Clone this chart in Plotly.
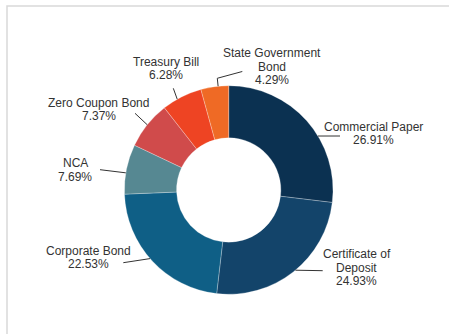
import math
import plotly.graph_objects as go

# Portfolio allocation by instrument type (percent of total)
labels = ["Commercial Paper", "Certificate of Deposit", "Corporate Bond", "NCA",
          "Zero Coupon Bond", "Treasury Bill", "State Government Bond"]
shares = [26.91, 24.93, 22.53, 7.69, 7.37, 6.28, 4.29]
label_lines = [["Commercial Paper"], ["Certificate of", "Deposit"], ["Corporate Bond"],
               ["NCA"], ["Zero Coupon Bond"], ["Treasury Bill"], ["State Government", "Bond"]]
colors = ["#0b3151", "#13446a", "#0f5f86", "#568892", "#d04b4b", "#ee4423", "#ef6a25"]

# Canvas and donut geometry (pixels)
W, H = 449, 334
CX, CY, R = 228.7, 190.0, 104.3
LINE_H = 13.3

# Label placement: text block centre x, first-line y, connector end point,
# small angular shift of the connector start and optional radial stub length
label_pos = [
    dict(tx=373.8, ty=127.0, ex=340.0, ey=136.0, nudge=10.4, stub=0),
    dict(tx=356.7, ty=254.3, ex=322.7, ey=270.7, nudge=-1.5, stub=0),
    dict(tx=88.0, ty=250.7, ex=123.3, ey=262.7, nudge=1.7, stub=0),
    dict(tx=75.3, ty=163.3, ex=100.0, ey=169.7, nudge=-2.1, stub=0),
    dict(tx=98.7, ty=103.0, ex=135.0, ey=113.3, nudge=0.0, stub=0),
    dict(tx=166.3, ty=62.0, ex=173.3, ey=88.3, nudge=-2.8, stub=0),
    dict(tx=271.7, ty=53.3, ex=242.3, ey=71.5, nudge=1.9, stub=8),
]


def px(x):
    return x / W


def py(y):
    return 1 - y / H


fig = go.Figure(go.Pie(
    labels=labels,
    values=shares,
    hole=0.5,
    sort=False,
    direction="clockwise",
    rotation=0,
    textinfo="none",
    marker=dict(colors=colors, line=dict(color="rgba(255,255,255,0.45)", width=0.6)),
    domain=dict(x=[px(CX - R), px(CX + R)], y=[py(CY + R), py(CY - R)]),
    showlegend=False,
))

annotations = []
shapes = []
total = sum(shares)
cum = 0.0
for name_lines, value, pos in zip(label_lines, shares, label_pos):
    mid = (cum + value / 2) / total * 360.0
    cum += value
    ang = math.radians(mid + pos["nudge"])
    sx = CX + R * math.sin(ang)
    sy = CY - R * math.cos(ang)
    pts = [(sx, sy)]
    if pos["stub"]:
        pts.append((CX + (R + pos["stub"]) * math.sin(ang), CY - (R + pos["stub"]) * math.cos(ang)))
    pts.append((pos["ex"], pos["ey"]))
    path = "M " + " L ".join(f"{px(x):.5f},{py(y):.5f}" for x, y in pts)
    shapes.append(dict(type="path", xref="paper", yref="paper", path=path,
                       line=dict(color="#333333", width=1)))

    lines = name_lines + [f"{value:.2f}%"]
    for i, t in enumerate(lines):
        annotations.append(dict(
            text=t, x=px(pos["tx"]), y=py(pos["ty"] + i * LINE_H),
            xref="paper", yref="paper", xanchor="center", yanchor="middle",
            showarrow=False, font=dict(family="Liberation Sans, Arial, sans-serif",
                                       size=12, color="#333333"),
        ))

# Light frame around the chart card
shapes.append(dict(type="rect", xref="paper", yref="paper",
                   x0=px(7), x1=1.05, y0=-0.05, y1=py(6),
                   line=dict(color="#d9d9d9", width=1.5), fillcolor="rgba(0,0,0,0)"))

fig.update_layout(
    width=W, height=H,
    margin=dict(l=0, r=0, t=0, b=0),
    paper_bgcolor="white",
    plot_bgcolor="white",
    annotations=annotations,
    shapes=shapes,
)

fig.write_html("out.html")
